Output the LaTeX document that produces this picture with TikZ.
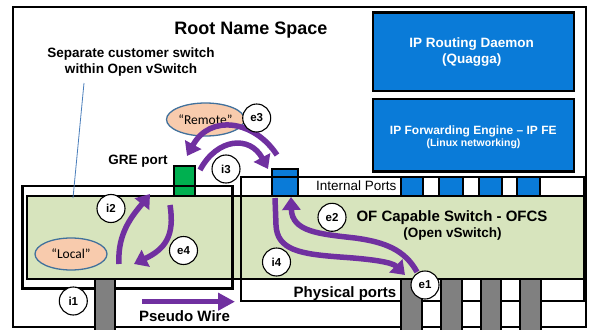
\documentclass[tikz,border=0pt]{standalone}
\usepackage{fontspec}
\setmainfont{Liberation Sans}
\newfontfamily\carlito{Carlito}
\usetikzlibrary{arrows.meta,shapes.geometric}
\definecolor{flowpurple}{HTML}{7030A0}
\definecolor{ipblue}{HTML}{0A7BD8}
\definecolor{swgreen}{HTML}{D7E4BD}
\definecolor{greport}{HTML}{00B050}
\definecolor{peach}{HTML}{F8CBAD}
\definecolor{ellblue}{HTML}{41719C}
\definecolor{polegray}{HTML}{808080}
\definecolor{pointer}{HTML}{4A7EBB}
\tikzset{
  outline/.style={draw=black, line width=2.4pt},
  portbox/.style={draw=black, line width=1.8pt},
  flow/.style={draw=flowpurple, line width=5.5pt, -{Triangle[length=13pt,width=18pt]}},
  lbl/.style={circle, draw=black, line width=1.1pt, fill=white, minimum size=28pt, inner sep=0pt, font=\bfseries\fontsize{11.5}{12}\selectfont},
  blob/.style={ellipse, draw=ellblue, line width=1.3pt, fill=peach, inner sep=0pt, font=\carlito\fontsize{13.5}{14}\selectfont},
  txt/.style={anchor=base, inner sep=0pt},
}
\begin{document}
\begin{tikzpicture}[x=1pt,y=-1pt]
\useasboundingbox (0,0) rectangle (591,329);
\clip (0,0) rectangle (591,329);
% root name space
\draw[outline, fill=white] (13,7) rectangle (586,326.7);
% top right blue boxes
\draw[outline, fill=ipblue] (373,12.7) rectangle (574,90.7);
\draw[outline, fill=ipblue] (373,98.7) rectangle (574,171.5);
% frames (fill only)
\fill[white] (22.3,185.7) rectangle (232.3,288.3);
\fill[white] (241,177) rectangle (584,301);
% green switch boxes
\draw[portbox, fill=swgreen] (27,196) rectangle (241,279);
\draw[portbox, fill=swgreen] (241,196) rectangle (584,279);
% ports
\draw[portbox, fill=greport] (174,166) rectangle (195,196);
\draw[portbox, fill=ipblue] (272,169) rectangle (298,196);
\foreach \a/\b in {401/423, 439/463, 479/502, 517/540}
  \draw[portbox, fill=ipblue] (\a,177) rectangle (\b,196);
% frame outlines
\draw[outline] (22.3,185.7) rectangle (232.3,288.3);
\draw[outline] (241,177) rectangle (584,301);
% gray poles
\draw[portbox, fill=polegray] (95,279) rectangle (115,340);
\foreach \a/\b in {401/422, 441/462, 481/501, 520/541}
  \draw[portbox, fill=polegray] (\a,279) rectangle (\b,340);
% texts
\node[txt, font=\bfseries\fontsize{18}{20}\selectfont] (title) at (251,35) {Root Name Space};
\node[txt, font=\bfseries\fontsize{13.5}{16}\selectfont] (sepa) at (131,57.3) {Separate customer switch};
\node[txt, font=\bfseries\fontsize{13.5}{16}\selectfont] (sepb) at (131,73.3) {within Open vSwitch};
\coordinate (ptrtop) at (84,83);
\coordinate (ptrend) at (73,198);
\draw[pointer, line width=0.8pt] (ptrtop) -- (ptrend);
\node[txt, text=white, font=\bfseries\fontsize{13.5}{15}\selectfont] (ipr) at (471.7,47.3) {IP Routing Daemon};
\node[txt, text=white, font=\bfseries\fontsize{13.5}{15}\selectfont] (quagga) at (471.7,63.5) {(Quagga)};
\node[txt, text=white, font=\bfseries\fontsize{12}{14}\selectfont] (ipfe) at (473.3,134.5) {IP Forwarding Engine – IP FE};
\node[txt, text=white, font=\bfseries\fontsize{10.5}{12}\selectfont] (linux) at (473.5,146.5) {(Linux networking)};
\node[anchor=base east, inner sep=0pt, font=\fontsize{13.5}{15}\selectfont] (intp) at (396.5,190.7) {Internal Ports};
\node[txt, font=\bfseries\fontsize{15}{17}\selectfont] (ofcs) at (452,221.7) {OF Capable Switch - OFCS};
\node[txt, font=\bfseries\fontsize{13.5}{15}\selectfont] (ovs) at (452.5,237) {(Open vSwitch)};
\node[txt, font=\bfseries\fontsize{15}{17}\selectfont] (phys) at (345,297) {Physical ports};
\node[txt, font=\bfseries\fontsize{13.5}{15}\selectfont] (gre) at (138,164) {GRE port};
\node[txt, font=\bfseries\fontsize{15}{17}\selectfont] (pw) at (184.5,321.7) {Pseudo Wire};
% ellipses
\node[blob, minimum width=78pt, minimum height=33pt] (remote) at (205.5,119.5) {“Remote”};
\node[blob, minimum width=72pt, minimum height=32pt] (local) at (71,254) {“Local”};
% flow arrows
\coordinate (pwa) at (142,301.7);
\coordinate (pwb) at (235,301.7);
\draw[draw=flowpurple, line width=5.5pt, -{Triangle[length=17pt,width=17pt]}] (pwa) -- (pwb);
\coordinate (ua) at (277,155);
\coordinate (ub) at (187,156);
\draw[flow] (ua) .. controls (254,120) and (210,114) .. (ub);
\coordinate (la) at (200,170);
\coordinate (lb) at (268,169);
\draw[flow] (la) .. controls (217,138) and (250,135) .. (lb);
\coordinate (i2a) at (119,264);
\coordinate (i2b) at (150,194);
\draw[flow] (i2a) .. controls (117,232) and (134,214) .. (i2b);
\coordinate (e4a) at (170,205);
\coordinate (e4b) at (134,264);
\draw[flow] (e4a) .. controls (175,236) and (165,249) .. (e4b);
\coordinate (i4a) at (275,198);
\coordinate (i4b) at (405,275);
\draw[flow] (i4a) -- (276,225) .. controls (277,250) and (300,254) .. (340,257) .. controls (370,259) and (392,262) .. (i4b);
\coordinate (e2a) at (417,272);
\coordinate (e2b) at (291,197);
\draw[flow] (e2a) .. controls (405,250) and (385,242) .. (355,238) .. controls (320,234) and (292,232) .. (e2b);
% circle labels
\node[lbl] (e3) at (256.7,118) {e3};
\node[lbl] (i3) at (226,169) {i3};
\node[lbl] (i2) at (111,208.5) {i2};
\node[lbl] (e4) at (183.5,250.5) {e4};
\node[lbl] (i1) at (73.3,301) {i1};
\node[lbl] (i4) at (276.5,262) {i4};
\node[lbl] (e2) at (332,217.3) {e2};
\node[lbl] (e1) at (425,285) {e1};
\end{tikzpicture}
\end{document}
